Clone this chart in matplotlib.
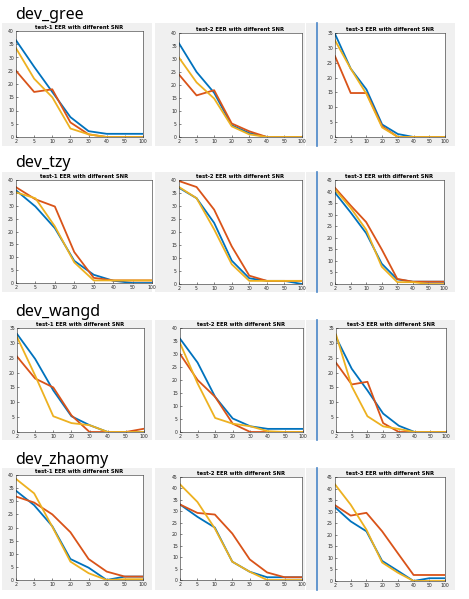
import matplotlib
matplotlib.use("Agg")
import matplotlib.pyplot as plt
import numpy as np

# SNR values on the x axis (shown as evenly spaced categories)
snr = [2, 5, 10, 20, 30, 40, 50, 100]
users = ["dev_gree", "dev_tzy", "dev_wangd", "dev_zhaomy"]
tests = ["test-1", "test-2", "test-3"]

# EER values, one row per test (test-1, test-2, test-3)
gree_blue = [[36.5, 26.5, 17, 7.5, 2.2, 1.2, 1.2, 1.2],
             [36, 25, 17, 4.5, 1.5, 0, 0, 0],
             [34.7, 23, 16, 4.2, 1, 0, 0, 0]]
gree_red = [[25, 17, 18, 5.5, 1, 0, 0, 0],
            [24, 16, 18, 5.2, 2.2, 0, 0, 0],
            [27.2, 14.8, 14.8, 3.6, 0, 0, 0, 0]]
gree_yellow = [[33.5, 22, 15, 3.2, 1, 0, 0, 0],
               [30.5, 21, 14.8, 4.1, 1, 0, 0, 0],
               [32.5, 23, 14.5, 3.2, 0, 0, 0, 0]]

tzy_blue = [[36, 29.7, 21.3, 8.6, 3.2, 0.9, 0, 0],
            [37, 33, 23.5, 9, 2.2, 1.2, 1.2, 0],
            [39.5, 31, 22, 8.8, 2, 1, 1, 1]]
tzy_red = [[37.2, 32.5, 29.7, 12, 2, 1, 1, 1],
           [39.6, 37.3, 28.6, 14.5, 3.2, 1.2, 1.2, 1.2],
           [41.6, 34, 26.8, 15, 2.2, 1, 1, 1]]
tzy_yellow = [[35.2, 32.9, 22, 8, 1, 1, 1, 1],
              [37.3, 33, 21, 7.6, 1.2, 1.2, 1.2, 1.2],
              [40.9, 33, 23.5, 7.5, 0.8, 0.8, 0, 0]]

wangd_blue = [[33, 24.6, 14, 5.3, 2.3, 0, 0, 0],
              [35.9, 26.7, 13.5, 5.2, 2.2, 1.2, 1.2, 1.2],
              [31.9, 21.3, 14, 6.2, 2.1, 0, 0, 0]]
wangd_red = [[25.4, 18, 15, 5.6, 0, 0, 0, 1.1],
             [30, 20, 13.5, 3.2, 0, 0, 0, 0],
             [23.3, 16, 16.9, 3, 0, 0, 0, 0]]
wangd_yellow = [[32, 19, 5.3, 3, 2.3, 0, 0, 0],
                [34.2, 18.7, 5.4, 3.2, 2.2, 0.3, 0, 0],
                [32.8, 15.4, 5.3, 1.9, 1, 0, 0, 0]]

zhaomy_blue = [[34, 28.5, 20.5, 8, 4.7, 0, 1.3, 1.3],
               [33, 27.6, 22.9, 8, 3.6, 1.2, 1.2, 1.2],
               [31.9, 25.8, 21.5, 8.7, 4.4, 0, 1.2, 1.2]]
zhaomy_red = [[31.8, 29.5, 25, 18.2, 8, 3.2, 1.3, 1.3],
              [33, 29.3, 28.6, 20.3, 9, 3.3, 1.2, 1.2],
              [32.8, 28.3, 29.5, 21.5, 12, 2.6, 2.6, 2.6]]
zhaomy_yellow = [[38.5, 33, 20.3, 7, 2.6, 0, 0.3, 0.3],
                 [41.8, 34.1, 22.5, 8, 3.6, 0, 0, 0],
                 [41.8, 33, 22.2, 8, 3.6, 0, 0, 0]]

blue_rows = [gree_blue, tzy_blue, wangd_blue, zhaomy_blue]
red_rows = [gree_red, tzy_red, wangd_red, zhaomy_red]
yellow_rows = [gree_yellow, tzy_yellow, wangd_yellow, zhaomy_yellow]
ymax = [[40, 40, 35], [40, 40, 45], [35, 40, 35], [40, 45, 45]]

# layout in pixels (left, top, right, bottom)
W, H = 469, 599
axes_px = [
    [(16, 31, 143, 137), (179, 33, 302, 137), (335, 33, 445, 137)],
    [(16, 180, 152, 283), (179, 180, 302, 284), (335, 180, 444, 284)],
    [(17, 328, 144, 432), (180, 328, 303, 432), (336, 328, 446, 432)],
    [(16, 475, 143, 580), (180, 477, 302, 580), (335, 477, 445, 581)],
]
panel_rows = [(23, 146), (172, 292), (320, 440), (468, 590)]
panel_cols = [(2, 152), (155, 305), (306, 455)]
title_y = [19, 167, 316, 464]


def frac(l, t, r, b):
    return [l / W, 1 - b / H, (r - l) / W, (b - t) / H]


fig = plt.figure(figsize=(W / 100, H / 100), dpi=100)
fig.patch.set_facecolor("white")

for i, user in enumerate(users):
    top, bot = panel_rows[i]
    for (pl, pr) in panel_cols:
        bg = fig.add_axes(frac(pl, top, pr, bot))
        bg.set_facecolor("#f0f0f0")
        bg.set_xticks([])
        bg.set_yticks([])
        for s in bg.spines.values():
            s.set_visible(False)
    # blue window edge in the third column
    fig.add_artist(plt.Line2D([317 / W, 317 / W], [1 - bot / H, 1 - top / H],
                              color="#4a86c8", lw=1.2))
    fig.text(15 / W, 1 - title_y[i] / H, user, fontsize=11.5,
             family="Noto Sans", va="baseline", ha="left")

    for j, test in enumerate(tests):
        ax = fig.add_axes(frac(*axes_px[i][j]))
        x = np.arange(len(snr))
        ax.plot(x, blue_rows[i][j], color="#0072BD", lw=1.3)
        ax.plot(x, red_rows[i][j], color="#D95319", lw=1.3)
        ax.plot(x, yellow_rows[i][j], color="#EDB120", lw=1.3)
        ax.set_xlim(0, len(snr) - 1)
        ax.set_ylim(0, ymax[i][j])
        ax.set_xticks(x)
        ax.set_xticklabels([str(s) for s in snr])
        ax.set_yticks(np.arange(0, ymax[i][j] + 1, 5))
        ax.tick_params(direction="in", length=1.5, width=0.4, labelsize=3.3,
                       pad=1.5, colors="#262626")
        for s in ax.spines.values():
            s.set_linewidth(0.4)
            s.set_color("#262626")
        ax.set_title(test + " EER with different SNR", fontsize=3.8,
                     fontweight="bold", pad=1.5)

fig.savefig("out.png", dpi=100)
